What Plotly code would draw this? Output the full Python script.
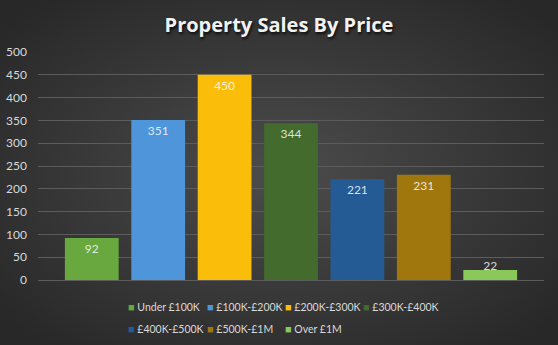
import base64
import plotly.graph_objects as go

categories = ["Under £100K", "£100K-£200K", "£200K-£300K", "£300K-£400K",
              "£400K-£500K", "£500K-£1M", "Over £1M"]
sales = [92, 351, 450, 344, 221, 231, 22]
colors = ["#68a83e", "#4e95d9", "#f9bd0a", "#446b2e", "#245b94", "#a0770c", "#8ac85a"]
y_ticks = list(range(0, 501, 50))
title_text = "Property Sales By Price"

W, H = 558, 345
L, R, T, B = 38, 14, 52, 65
PW, PH = W - L - R, H - T - B

FONT = "Lato, 'Open Sans', sans-serif"

fig = go.Figure()
for cat, val, col in zip(categories, sales, colors):
    fig.add_trace(go.Bar(
        x=[cat], y=[val], name=cat, marker=dict(color=col, line=dict(width=0)),
        width=0.81, showlegend=False, hoverinfo="x+y",
    ))

# data labels just inside the top of each bar
label_y = [max(v - 26, 29) for v in sales]
fig.add_trace(go.Scatter(
    x=categories, y=label_y, mode="text", text=[str(v) for v in sales],
    textposition="middle center",
    textfont=dict(family=FONT, size=12, color="rgba(255,255,255,0.82)"),
    showlegend=False, hoverinfo="skip",
))

# background radial gradient
svg = ('<svg xmlns="http://www.w3.org/2000/svg" width="558" height="345" '
       'viewBox="0 0 558 345" preserveAspectRatio="none">'
       '<defs><radialGradient id="g" cx="50%" cy="50%" r="65%">'
       '<stop offset="0%" stop-color="#4c4c4c"/>'
       '<stop offset="100%" stop-color="#282828"/>'
       '</radialGradient></defs>'
       '<rect width="558" height="345" fill="url(#g)"/></svg>')
src = "data:image/svg+xml;base64," + base64.b64encode(svg.encode()).decode()

# legend (Excel-style small squares with column alignment)
col_x = [126, 205, 283, 361]
row_y = [306, 328]
annotations = []
for i, (cat, col) in enumerate(zip(categories, colors)):
    r, c = divmod(i, 4)
    px = col_x[c]
    py = row_y[r]
    annotations.append(dict(
        xref="paper", yref="paper",
        x=(px - L) / PW, y=(T + PH - py) / PH,
        xanchor="left", yanchor="middle", showarrow=False,
        text=f'<span style="color:{col};font-size:11px">■</span> {cat}',
        font=dict(family=FONT, size=10.5, color="#d9d9d9"),
    ))

fig.update_layout(
    width=W, height=H,
    margin=dict(l=L, r=R, t=T, b=B, autoexpand=False),
    paper_bgcolor="#3a3a3a",
    plot_bgcolor="rgba(0,0,0,0)",
    barmode="overlay",
    title=dict(
        text="<b>" + title_text + "</b>", x=0.5, xref="container", xanchor="center",
        y=1 - 25 / H, yref="container", yanchor="middle",
        font=dict(family="'Open Sans', Lato, sans-serif", size=20, color="#f2f2f2",
                  shadow="1px 2px 3px rgba(0,0,0,0.8)"),
    ),
    xaxis=dict(
        type="category", categoryorder="array", categoryarray=categories,
        range=[-0.81, 6.81], showticklabels=False, showgrid=False,
        showline=False, zeroline=False, ticks="", automargin=False,
    ),
    yaxis=dict(
        range=[0, 500], tickvals=y_ticks, showgrid=True,
        gridcolor="#5c5c5c", gridwidth=1, zeroline=True, zerolinecolor="#5c5c5c",
        zerolinewidth=1, showline=False, ticks="", automargin=False,
        tickfont=dict(family=FONT, size=12, color="#d9d9d9"),
        ticklabelstandoff=10,
    ),
    images=[dict(
        source=src, xref="paper", yref="paper",
        x=-L / PW, y=1 + T / PH, sizex=W / PW, sizey=H / PH,
        xanchor="left", yanchor="top", sizing="stretch", layer="below",
    )],
    annotations=annotations,
)

fig.write_html("out.html")
